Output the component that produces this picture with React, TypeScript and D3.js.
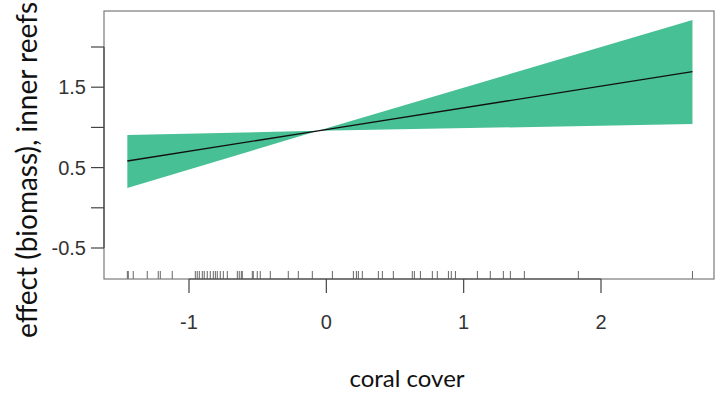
import React from "react";
import * as d3 from "d3";

// Partial effect of coral cover on biomass (inner reefs)
const effectX = [-1.449, -0.06, 2.666];
const effectFit = [0.582, 0.957, 1.693];
const effectLower = [0.246, 0.957, 1.042];
const effectUpper = [0.905, 0.957, 2.336];

// Observed coral cover values (rug)
const rugValues = [
  -1.449, -1.442, -1.406, -1.304, -1.224, -1.209, -1.122, -0.954, -0.94, -0.925,
  -0.903, -0.889, -0.867, -0.845, -0.823, -0.808, -0.794, -0.772, -0.75, -0.721,
  -0.648, -0.634, -0.619, -0.612, -0.539, -0.532, -0.503, -0.481, -0.408, -0.277,
  -0.204, -0.102, 0.044, 0.197, 0.219, 0.233, 0.262, 0.379, 0.408, 0.488, 0.626,
  0.641, 0.685, 0.772, 0.808, 0.889, 0.91, 0.94, 1.1, 1.194, 1.289, 1.34, 1.442,
  1.835, 2.666,
];

const xTicks = [-1, 0, 1, 2];
const yTicks = [-0.5, 0, 0.5, 1, 1.5, 2];
const yTickLabels = ["-0.5", "", "0.5", "", "1.5", ""];

const W = 727;
const H = 395;
const box = { left: 104, right: 714, top: 11, bottom: 279 };

export default function App() {
  const x = d3.scaleLinear().domain([-1, 2]).range([189, 601]);
  const y = d3.scaleLinear().domain([-0.5, 2]).range([248, 47]);

  const rows = effectX.map((v, i) => ({
    x: v,
    fit: effectFit[i],
    lo: effectLower[i],
    hi: effectUpper[i],
  }));

  const band = d3
    .area<any>()
    .x((d) => x(d.x))
    .y0((d) => y(d.lo))
    .y1((d) => y(d.hi))(rows) as string;

  const fitLine = d3
    .line<any>()
    .x((d) => x(d.x))
    .y((d) => y(d.fit))(rows) as string;

  const tickFont = "'Liberation Sans', Arial, sans-serif";
  const titleFont = "Lato, 'Open Sans', sans-serif";

  return (
    <svg
      width={W}
      height={H}
      style={{ position: "absolute", left: 0, top: 0, background: "#fff" }}
    >
      <path d={band} fill="#48C095" stroke="none" />
      <path d={fitLine} fill="none" stroke="#111" strokeWidth={1.3} />

      {/* rug */}
      {rugValues.map((v, i) => (
        <line
          key={i}
          x1={x(v)}
          x2={x(v)}
          y1={271}
          y2={box.bottom}
          stroke="#666"
          strokeWidth={1}
        />
      ))}

      {/* plot frame */}
      <rect
        x={box.left}
        y={box.top}
        width={box.right - box.left}
        height={box.bottom - box.top}
        fill="none"
        stroke="#7a7a7a"
        strokeWidth={1.2}
      />

      {/* x axis */}
      <line
        x1={x(xTicks[0])}
        x2={x(xTicks[xTicks.length - 1])}
        y1={box.bottom}
        y2={box.bottom}
        stroke="#444"
        strokeWidth={1.2}
      />
      {xTicks.map((t) => (
        <g key={t}>
          <line
            x1={x(t)}
            x2={x(t)}
            y1={box.bottom}
            y2={293}
            stroke="#444"
            strokeWidth={1.2}
          />
          <text
            x={x(t)}
            y={329}
            textAnchor="middle"
            fontFamily={tickFont}
            fontSize={20}
            fill="#333"
          >
            {t}
          </text>
        </g>
      ))}

      {/* y axis */}
      <line
        x1={box.left}
        x2={box.left}
        y1={y(yTicks[0])}
        y2={y(yTicks[yTicks.length - 1])}
        stroke="#444"
        strokeWidth={1.2}
      />
      {yTicks.map((t, i) => (
        <g key={t}>
          <line
            x1={91}
            x2={box.left}
            y1={y(t)}
            y2={y(t)}
            stroke="#444"
            strokeWidth={1.2}
          />
          <text
            x={86}
            y={y(t) + 7}
            textAnchor="end"
            fontFamily={tickFont}
            fontSize={20}
            fill="#333"
          >
            {yTickLabels[i]}
          </text>
        </g>
      ))}

      {/* axis titles */}
      <text
        x={407}
        y={387}
        textAnchor="middle"
        fontFamily={titleFont}
        fontSize={24}
        fill="#111"
      >
        coral cover
      </text>
      <text
        transform="translate(37,338) rotate(-90)"
        textAnchor="start"
        fontFamily={titleFont}
        fontSize={28}
        fill="#111"
      >
        effect (biomass), inner reefs
      </text>
    </svg>
  );
}
